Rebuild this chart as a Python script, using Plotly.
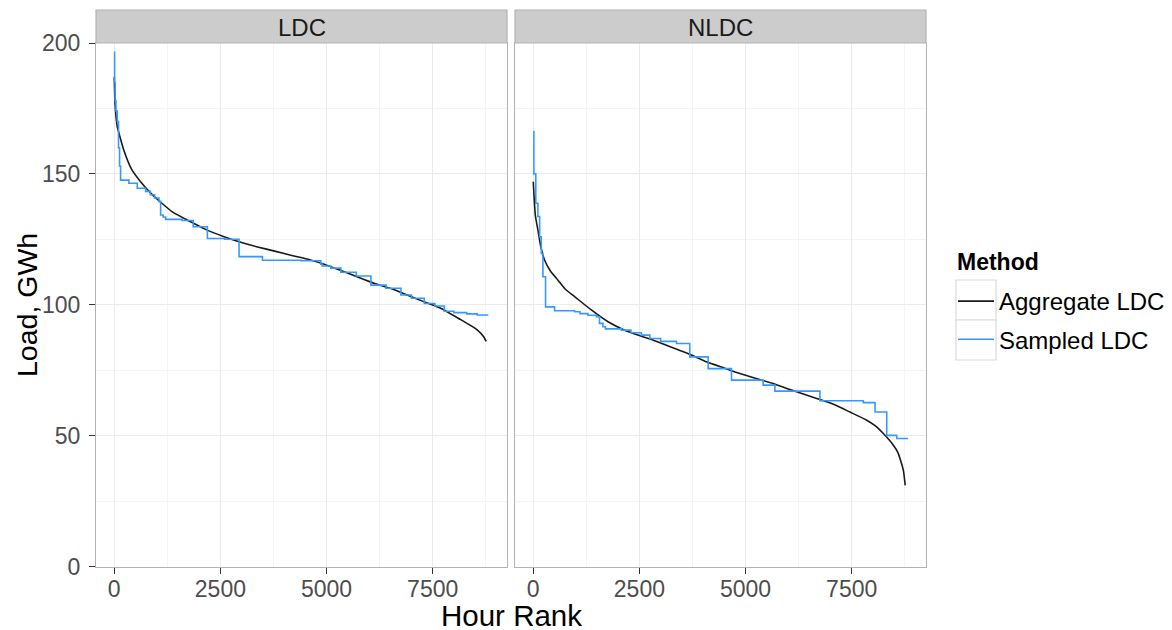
import plotly.graph_objects as go

# ---------------- data ----------------
facets = ["LDC", "NLDC"]
series_names = ["Aggregate LDC", "Sampled LDC"]

ldc_agg_hour = [0, 15, 40, 71, 120, 226, 400, 620, 900, 1368, 1800, 2153, 2585, 2939, 3373,
                3800, 4158, 4600, 4943, 5350, 5731, 6150, 6517, 6900, 7302, 7700, 8160, 8400,
                8554, 8700, 8760]
ldc_agg_load = [187, 178, 172, 168, 165, 159, 152, 147, 142, 135.5, 131.7, 128.8, 126, 124.1,
                122.1, 120.4, 118.9, 117.2, 115.5, 113, 110.6, 108, 106.2, 103.7, 101.1, 98.6,
                94.3, 92, 90.3, 87.8, 86]

ldc_smp_hour = [0, 8, 20, 40, 71, 100, 125, 149, 344, 542, 738, 850, 950, 1052, 1092, 1150,
                1210, 1600, 1860, 2193, 2600, 2939, 3491, 4400, 4863, 4900, 5100, 5337, 5700,
                6045, 6400, 6752, 7000, 7302, 7550, 7774, 8000, 8300, 8550, 8790]
ldc_smp_load = [196.5, 185, 178, 174, 170, 160, 153, 147.6, 146.4, 144.5, 143.3, 142, 140.8,
                139.5, 134.3, 133.5, 132.6, 132.2, 129.8, 125.3, 125.0, 118.4, 117.0, 116.8,
                115.5, 114.8, 114.0, 112.4, 111.0, 107.5, 106.3, 103.7, 102.5, 100.5, 99.5,
                97.5, 97.0, 96.5, 96.1, 95.8]

nldc_agg_hour = [0, 20, 50, 109, 180, 266, 400, 581, 750, 974, 1368, 1760, 2153, 2547, 2939,
                 3333, 3700, 4080, 4500, 4866, 5250, 5651, 6045, 6675, 7100, 7460, 7854, 8050,
                 8245, 8400, 8481, 8580, 8639, 8717, 8760]
nldc_agg_load = [147, 141, 134, 128.6, 122, 117.1, 113, 109.4, 106, 103.1, 98.0, 93.5, 90.3,
                 88.0, 85.8, 83.3, 81, 78.2, 75.8, 73.7, 71.8, 69.9, 67.6, 64.2, 61.8, 59.0,
                 55.9, 53.8, 50.8, 48, 46.3, 43.8, 41.2, 36.7, 31]

nldc_smp_hour = [0, 15, 60, 109, 150, 189, 227, 290, 502, 974, 1100, 1288, 1486, 1560, 1642,
                 1700, 2075, 2300, 2547, 2746, 3000, 3373, 3686, 4119, 4669, 5415, 5691, 6752,
                 7774, 8050, 8325, 8561, 8830]
nldc_smp_load = [166.2, 150, 138.8, 133.7, 126, 119.6, 110.7, 99.2, 97.7, 97.3, 96.6, 96.0,
                 95.4, 92.9, 91.6, 90.8, 90.3, 89.3, 88.4, 87.1, 86.0, 85.2, 80.1, 75.6, 71.2,
                 69.3, 67.0, 63.3, 62.6, 59.0, 50.1, 48.9, 48.9]

x_ticks = [0, 2500, 5000, 7500]
y_ticks = [0, 50, 100, 150, 200]

# ---------------- styling ----------------
COL_AGG = "#1a1a1a"
COL_SMP = "#3399ff"
FONT = "Liberation Sans, Arial, sans-serif"
OFF = 8                      # page body margin of the html page
W, H = 1172 - OFF, 630 - OFF

px = lambda v: (v - OFF) / W
py = lambda v: 1 - (v - OFF) / H
dom_x = [[px(96), px(507)], [px(515), px(926)]]
dom_y = [py(566.5), py(43)]

fig = go.Figure()

panels = [
    (ldc_agg_hour, ldc_agg_load, ldc_smp_hour, ldc_smp_load),
    (nldc_agg_hour, nldc_agg_load, nldc_smp_hour, nldc_smp_load),
]
for i, (ah, al, sh, sl) in enumerate(panels):
    xa = "x" if i == 0 else "x2"
    ya = "y" if i == 0 else "y2"
    fig.add_trace(go.Scatter(x=ah, y=al, mode="lines", name=series_names[0],
                             line=dict(color=COL_AGG, width=1.6, shape="spline", smoothing=0.5),
                             xaxis=xa, yaxis=ya, legendgroup="agg", showlegend=(i == 0)))
    fig.add_trace(go.Scatter(x=sh, y=sl, mode="lines", name=series_names[1],
                             line=dict(color=COL_SMP, width=1.6, shape="hv"), xaxis=xa, yaxis=ya,
                             legendgroup="smp", showlegend=(i == 0)))

axis_common = dict(
    showgrid=True, gridcolor="#ebebeb", gridwidth=1.3,
    showline=True, linecolor="#b3b3b3", linewidth=1.2, mirror=True,
    ticks="outside", ticklen=6, tickcolor="#333333", tickwidth=1.2,
    tickfont=dict(family=FONT, size=23, color="#4d4d4d"),
    zeroline=False, automargin=False,
)

xr = [-430, 9250]
yr = [0, 200]
minor_x = dict(dtick=1250, tick0=0, showgrid=True, gridcolor="#f4f4f4", gridwidth=1, ticks="")
minor_y = dict(dtick=25, tick0=0, showgrid=True, gridcolor="#f4f4f4", gridwidth=1, ticks="")
layout = dict(
    xaxis=dict(axis_common, domain=dom_x[0], range=xr, tickvals=x_ticks, anchor="y",
               minor=minor_x, ticklabelstandoff=-4),
    xaxis2=dict(axis_common, domain=dom_x[1], range=xr, tickvals=x_ticks, anchor="y2",
                minor=minor_x, ticklabelstandoff=-4),
    yaxis=dict(axis_common, domain=dom_y, range=yr, tickvals=y_ticks, anchor="x", minor=minor_y,
               ticklabelstandoff=4),
    yaxis2=dict(axis_common, domain=dom_y, range=yr, tickvals=y_ticks, anchor="x2",
                showticklabels=False, ticks="", minor=minor_y),
)
fig.update_layout(**layout)

shapes = []
annotations = []
for i, name in enumerate(facets):
    x0, x1 = dom_x[i]
    shapes.append(dict(type="rect", xref="paper", yref="paper", x0=x0, x1=x1,
                       y0=py(43), y1=py(10), fillcolor="#cccccc",
                       line=dict(color="#b3b3b3", width=1.2)))
    annotations.append(dict(text=name, xref="paper", yref="paper", x=(x0 + x1) / 2,
                            y=py(27), showarrow=False, xanchor="center", yanchor="middle",
                            font=dict(family=FONT, size=24, color="#1a1a1a")))

# legend key boxes (ggplot style)
for k in range(2):
    shapes.append(dict(type="rect", xref="paper", yref="paper", x0=px(956), x1=px(996),
                       y0=py(320 + 40 * k), y1=py(280 + 40 * k), fillcolor="white",
                       line=dict(color="#d9d9d9", width=1.2), layer="below"))

annotations.append(dict(text="Hour Rank", xref="paper", yref="paper", x=px(511), y=py(615),
                        showarrow=False, xanchor="center", yanchor="middle",
                        font=dict(family=FONT, size=29.5, color="black")))
annotations.append(dict(text="Load, GWh", xref="paper", yref="paper", x=px(27), y=py(305),
                        showarrow=False, xanchor="center", yanchor="middle", textangle=-90,
                        font=dict(family=FONT, size=28.5, color="black")))
annotations.append(dict(text="<b>Method</b>", xref="paper", yref="paper", x=px(955), y=py(262),
                        showarrow=False, xanchor="left", yanchor="middle",
                        font=dict(family=FONT, size=23, color="black")))

fig.update_layout(
    template="none",
    width=W, height=H,
    margin=dict(l=0, r=0, t=0, b=0, pad=0, autoexpand=False),
    paper_bgcolor="white", plot_bgcolor="white",
    shapes=shapes, annotations=annotations,
    showlegend=True,
    legend=dict(x=px(953), y=py(279), xanchor="left", yanchor="top",
                font=dict(family=FONT, size=24, color="black"),
                bgcolor="rgba(0,0,0,0)", tracegroupgap=4, itemwidth=36,
                traceorder="grouped"),
)

fig.write_html("out.html")
